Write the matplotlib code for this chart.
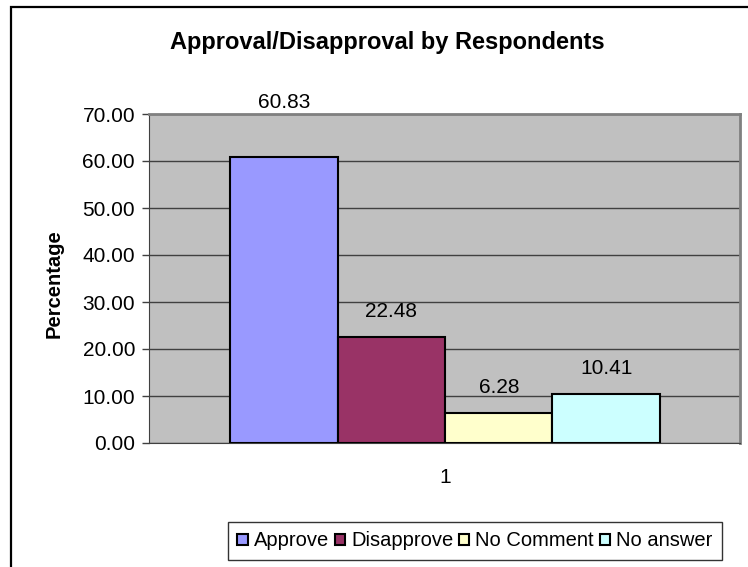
import numpy as np
import matplotlib
matplotlib.use("Agg")
import matplotlib.pyplot as plt
from matplotlib.patches import Rectangle

# survey responses, percent
labels = ["Approve", "Disapprove", "No Comment", "No answer"]
values = [60.83, 22.48, 6.28, 10.41]
colors = ["#9999FF", "#993366", "#FFFFCC", "#CCFFFF"]
yticks = [0, 10, 20, 30, 40, 50, 60, 70]

plt.rcParams['font.family'] = ['Liberation Sans', 'DejaVu Sans']

fig = plt.figure(figsize=(7.48, 5.67), dpi=100)
fig.patch.set_facecolor("white")

# outer chart frame (right/bottom run off the page)
fig.patches.append(Rectangle((11/748, -0.1), 1.2, 1 - 7/567 + 0.1,
                             transform=fig.transFigure, fill=False,
                             edgecolor="black", linewidth=1.6))

ax = fig.add_axes([149/748, 1 - 443/567, (740 - 149)/748, (443 - 114)/567])
ax.set_facecolor("#C0C0C0")

w = 0.2
x = (np.arange(len(values)) - 1.5) * w
bars = ax.bar(x, values, width=w, color=colors, edgecolor="black",
              linewidth=1.5, label=labels, zorder=3)

# tall bar gets its label lifted up near the top of the plot
for xi, v in zip(x, values):
    off = 35 if v > 50 else 14.5
    ax.annotate("%.2f" % v, (xi, v), xytext=(0, off), textcoords="offset points",
                ha="center", va="baseline", fontsize=15)

ax.set_xlim(-0.551, 0.549)
ax.set_ylim(0, 70)
ax.set_yticks(yticks)
ax.set_yticklabels(["%.2f" % t for t in yticks], fontsize=15)
ax.set_xticks([0])
ax.set_xticklabels(["1"], fontsize=15)
ax.tick_params(axis="x", length=0, pad=18)
ax.tick_params(axis="y", length=5, width=1, color="#404040", pad=5, direction="out")
ax.yaxis.grid(True, color="#404040", linewidth=1, zorder=1)
ax.set_axisbelow(True)

for side in ["top", "right"]:
    ax.spines[side].set_color("#808080")
    ax.spines[side].set_linewidth(2)
ax.spines["left"].set_color("#404040")
ax.spines["bottom"].set_color("#404040")

fig.text(54/748, 1 - 284/567, "Percentage", rotation=90, ha="center", va="center",
         fontsize=14.5, fontweight="bold")
fig.text(387/748, 1 - 42/567, "Approval/Disapproval by Respondents",
         ha="center", va="center", fontsize=17, fontweight="bold")

leg = fig.legend(handles=bars, labels=labels, ncol=4, loc="center",
                 bbox_to_anchor=(475/748, 1 - 541/567), fontsize=14.5,
                 frameon=True, fancybox=False, handlelength=0.5,
                 handleheight=0.5, handletextpad=0.3, columnspacing=0.3,
                 borderpad=0.45, borderaxespad=0)
leg.get_frame().set_edgecolor("black")
leg.get_frame().set_linewidth(1)

fig.savefig("out.png", dpi=100)
